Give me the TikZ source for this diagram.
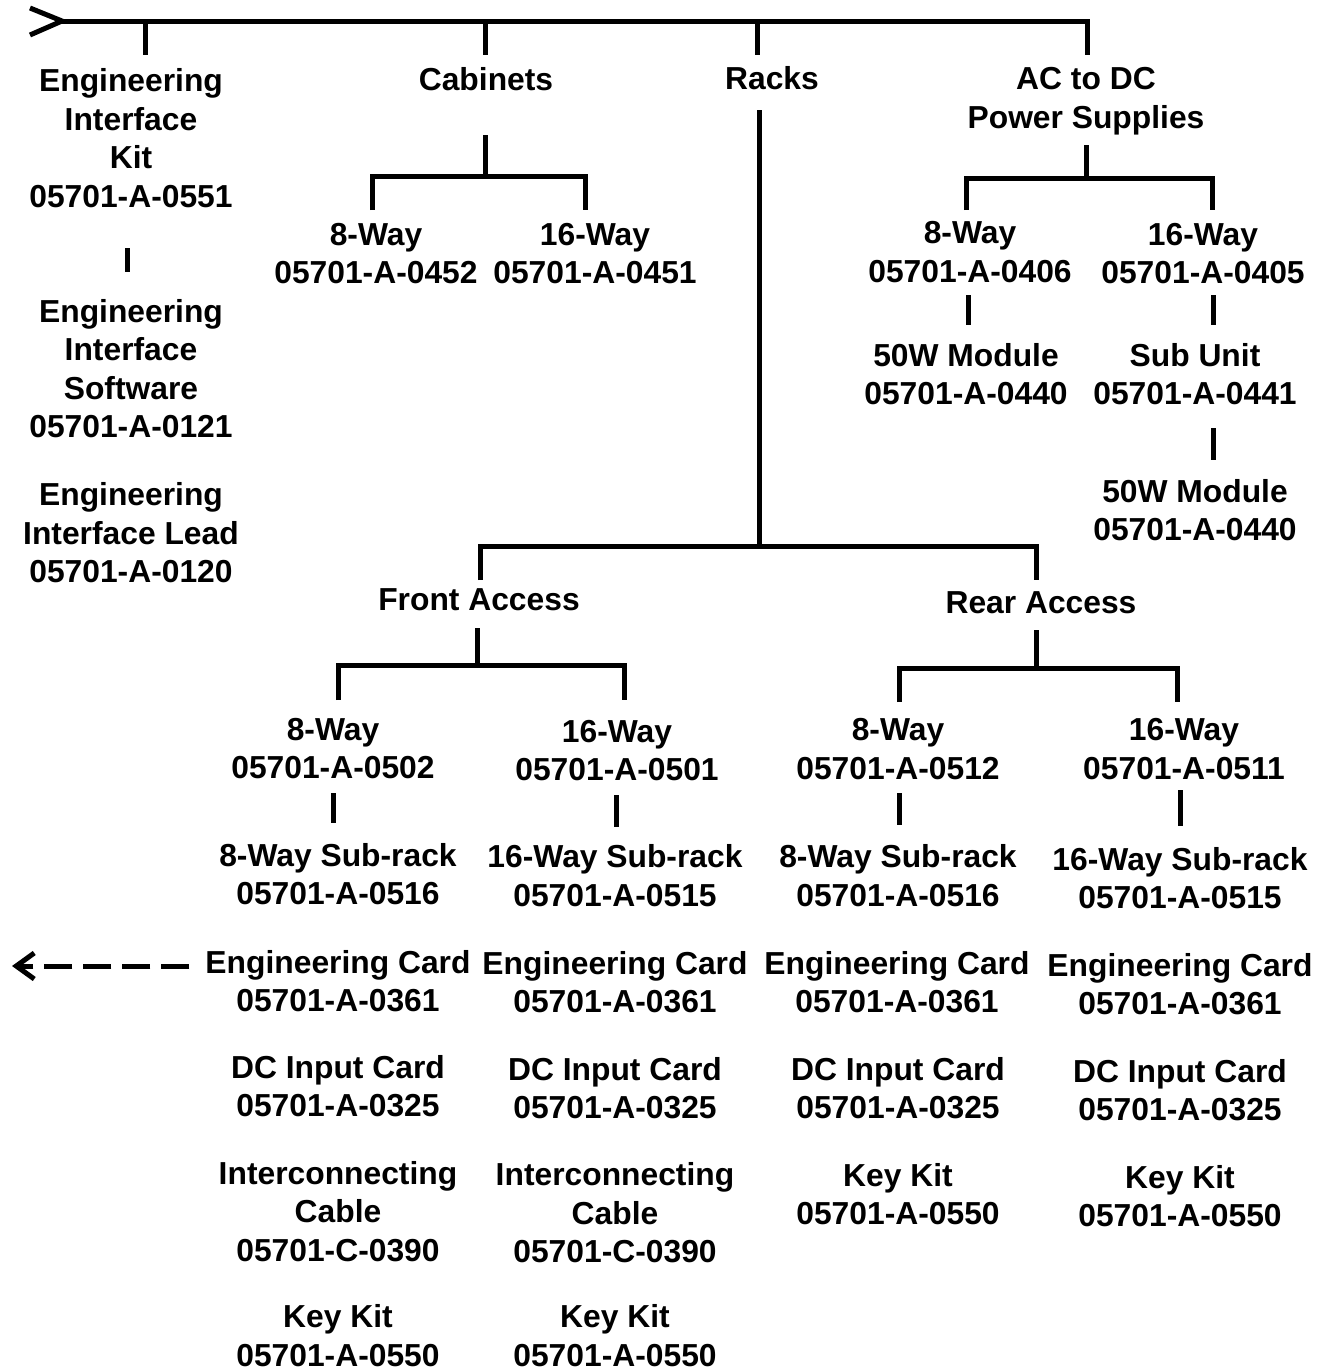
\documentclass[tikz,border=0pt]{standalone}
\usepackage{fontspec}
\setmainfont{Liberation Sans}
\usetikzlibrary{arrows.meta}
\begin{document}
\begin{tikzpicture}[x=1pt,y=-1pt,
  lbl/.style={font=\fontsize{31.8}{38.5}\selectfont\bfseries, align=center, inner sep=0pt},
  ln/.style={line width=5pt, line join=miter},
  dashln/.style={line width=5pt, dash pattern=on 28pt off 11pt, -{Straight Barb[length=18pt,width=26pt,line width=5pt]}}]
\useasboundingbox (0,0) rectangle (1330,1371);
% top level
\node[lbl] (eik) at (131,138) {Engineering\\Interface\\Kit\\05701-A-0551};
\node[lbl] (eis) at (131,368.5) {Engineering\\Interface\\Software\\05701-A-0121};
\node[lbl] (eil) at (131,533) {Engineering\\Interface Lead\\05701-A-0120};
\node[lbl] (cab) at (486,79) {Cabinets};
\node[lbl] (c8) at (376,253.5) {8-Way\\05701-A-0452};
\node[lbl] (c16) at (595,253.5) {16-Way\\05701-A-0451};
\node[lbl] (racks) at (772,78) {Racks};
\node[lbl] (acdc) at (1086,101) {AC to DC\\Power Supplies};
\node[lbl] (p8) at (970,252) {8-Way\\05701-A-0406};
\node[lbl] (p16) at (1203,253.5) {16-Way\\05701-A-0405};
\node[lbl] (m50a) at (966,374) {50W Module\\05701-A-0440};
\node[lbl] (sub) at (1195,374) {Sub Unit\\05701-A-0441};
\node[lbl] (m50b) at (1195,510) {50W Module\\05701-A-0440};
\node[lbl] (fa) at (479,600) {Front Access};
\node[lbl] (ra) at (1041,603) {Rear Access};
% column 1
\node[lbl] (w8a) at (333,748.5) {8-Way\\05701-A-0502};
\node[lbl] (sr1) at (338,874) {8-Way Sub-rack\\05701-A-0516};
\node[lbl] (ec1) at (338,981) {Engineering Card\\05701-A-0361};
\node[lbl] (dc1) at (338,1086) {DC Input Card\\05701-A-0325};
\node[lbl] (ic1) at (338,1211.5) {Interconnecting\\Cable\\05701-C-0390};
\node[lbl] (kk1) at (338,1335.5) {Key Kit\\05701-A-0550};
% column 2
\node[lbl] (w16a) at (617,750.5) {16-Way\\05701-A-0501};
\node[lbl] (sr2) at (615,875.5) {16-Way Sub-rack\\05701-A-0515};
\node[lbl] (ec2) at (615,982) {Engineering Card\\05701-A-0361};
\node[lbl] (dc2) at (615,1088) {DC Input Card\\05701-A-0325};
\node[lbl] (ic2) at (615,1213) {Interconnecting\\Cable\\05701-C-0390};
\node[lbl] (kk2) at (615,1335.5) {Key Kit\\05701-A-0550};
% column 3
\node[lbl] (w8b) at (898,749) {8-Way\\05701-A-0512};
\node[lbl] (sr3) at (898,875.5) {8-Way Sub-rack\\05701-A-0516};
\node[lbl] (ec3) at (897,982) {Engineering Card\\05701-A-0361};
\node[lbl] (dc3) at (898,1088) {DC Input Card\\05701-A-0325};
\node[lbl] (kk3) at (898,1194) {Key Kit\\05701-A-0550};
% column 4
\node[lbl] (w16b) at (1184,749) {16-Way\\05701-A-0511};
\node[lbl] (sr4) at (1180,878) {16-Way Sub-rack\\05701-A-0515};
\node[lbl] (ec4) at (1180,984) {Engineering Card\\05701-A-0361};
\node[lbl] (dc4) at (1180,1090) {DC Input Card\\05701-A-0325};
\node[lbl] (kk4) at (1180,1196) {Key Kit\\05701-A-0550};
% coordinates
\coordinate (topL) at (62,21);
\coordinate (topR) at (1087,21);
\coordinate (dashEnd) at (12,966);
% top bus
\draw[ln] (30,8) -- (topL) -- (30,35);
\draw[ln] (topL) -- (topR) -- (1087,55);
\draw[ln] (145,21) -- (145,55);
\draw[ln] (485,21) -- (485,55);
\draw[ln] (757,21) -- (757,55);
% cabinets
\draw[ln] (485,135) -- (485,176);
\draw[ln] (372,210) -- (372,176) -- (585,176) -- (585,210);
% racks
\draw[ln] (759,110) -- (759,546);
\draw[ln] (480,580) -- (480,546) -- (1036,546) -- (1036,580);
% ac to dc
\draw[ln] (1086,145) -- (1086,178);
\draw[ln] (966,210) -- (966,178) -- (1212,178) -- (1212,210);
% separators
\draw[ln] (127,248) -- (127,272);
\draw[ln] (968,295) -- (968,325);
\draw[ln] (1213,295) -- (1213,325);
\draw[ln] (1213,428) -- (1213,460);
% front / rear
\draw[ln] (477,628) -- (477,665);
\draw[ln] (338,700) -- (338,665) -- (624,665) -- (624,700);
\draw[ln] (1036,630) -- (1036,668);
\draw[ln] (899,702) -- (899,668) -- (1177,668) -- (1177,702);
\draw[ln] (333,793) -- (333,823);
\draw[ln] (616,795) -- (616,827);
\draw[ln] (899,793) -- (899,825);
\draw[ln] (1180,790) -- (1180,826);
% dashed arrow
\draw[dashln] ([xshift=-16pt]ec1.west |- 0,966) -- (dashEnd);
\end{tikzpicture}
\end{document}
